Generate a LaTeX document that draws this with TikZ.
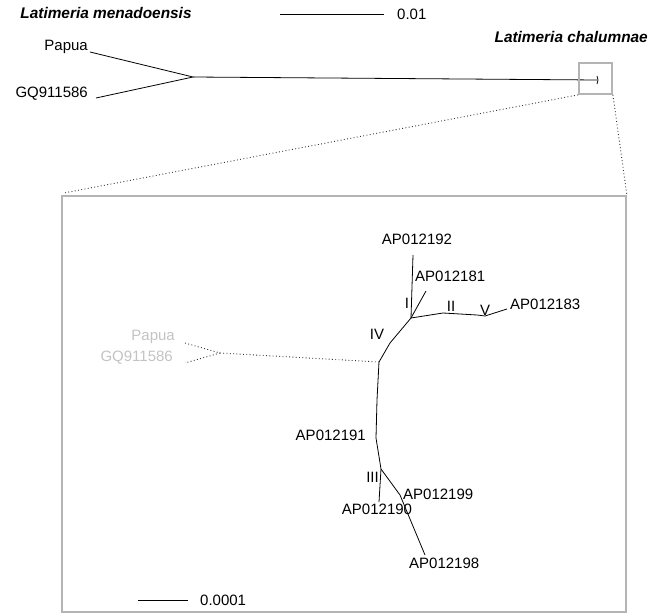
\documentclass[tikz,border=0pt]{standalone}
\usepackage{fontspec}
\setmainfont{Liberation Sans}
\usepackage{tikz}
\definecolor{boxgray}{RGB}{180,180,180}
\definecolor{leafgray}{RGB}{195,195,195}
\begin{document}
\begin{tikzpicture}[x=1pt,y=-1pt]
\tikzstyle{every node}+=[inner sep=0pt,font=\fontsize{15}{18}\selectfont]
\tikzstyle{species}=[font=\fontsize{15.4}{18}\selectfont\bfseries\itshape]
\tikzstyle{zoombox}=[draw=boxgray,line width=1.8pt,inner sep=0pt]
\tikzstyle{branch}=[black,line width=0.8pt]
\tikzstyle{guide}=[black!80,line width=0.9pt,dash pattern=on 0.9pt off 2.4pt]
\useasboundingbox (0,0) rectangle (653,615);
\draw (106,13) node [species] (menado) {Latimeria menadoensis};
\draw (648,37) node [species,anchor=east] (chalum) {Latimeria chalumnae};
\coordinate (bigleft) at (280,14);
\coordinate (bigright) at (384,14);
\draw [branch] (bigleft) -- (bigright);
\draw (397,14) node [anchor=west] (bigscale) {0.01};
\coordinate (root) at (193,77);
\coordinate (papuatip) at (90,52);
\coordinate (gqtip) at (96,98);
\coordinate (chaltip) at (597,80);
\draw (88,47) node [anchor=east] (papua) {Papua};
\draw (88,94) node [anchor=east] (gq) {GQ911586};
\draw [branch] (papuatip) -- (root) -- (gqtip);
\draw [branch] (root) -- (chaltip);
\draw [branch] (597,76) -- (598,80) -- (597,84);
\node [zoombox,minimum width=33pt,minimum height=31pt] (small) at (595.5,78.5) {};
\node [zoombox,minimum width=564pt,minimum height=416pt] (big) at (344,404) {};
\draw [guide] (small.south west) -- (64,193);
\draw [guide] (small.south east) -- (big.north east);
\coordinate (base) at (379,362);
\coordinate (kink) at (390,343);
\coordinate (hub) at (411,318);
\coordinate (tipA) at (413,255);
\coordinate (tipB) at (426,291);
\coordinate (bendA) at (443,313);
\coordinate (bendB) at (477,315);
\coordinate (vjoin) at (485,316);
\coordinate (tipC) at (507,309);
\coordinate (midD) at (377,400);
\coordinate (tipD) at (376,438);
\coordinate (nodeE) at (381,469);
\coordinate (tipE) at (379,502);
\coordinate (tipF) at (400,495);
\coordinate (tipG) at (425,555);
\coordinate (grayjoin) at (220,353);
\coordinate (graypapua) at (185,343);
\coordinate (graygq) at (185,363);
\draw [branch] (base) -- (kink) -- (hub) -- (tipA);
\draw [branch] (hub) -- (tipB);
\draw [branch] (hub) -- (bendA) -- (bendB) -- (vjoin) -- (tipC);
\draw [branch] (base) -- (midD) -- (tipD) -- (nodeE) -- (tipE);
\draw [branch] (nodeE) -- (tipF) -- (tipG);
\draw [guide] (base) -- (grayjoin) -- (graypapua);
\draw [guide] (grayjoin) -- (graygq);
\draw (417,239) node (lab192) {AP012192};
\draw (415,276) node [anchor=west] (lab181) {AP012181};
\draw (510,304) node [anchor=west] (lab183) {AP012183};
\draw (366,435) node [anchor=east] (lab191) {AP012191};
\draw (377,509) node (lab190) {AP012190};
\draw (403,494) node [anchor=west] (lab199) {AP012199};
\draw (409,563) node [anchor=west] (lab198) {AP012198};
\draw (407,303) node (cladeI) {I};
\draw (451,306) node (cladeII) {II};
\draw (485,310) node (cladeV) {V};
\draw (377,334) node (cladeIV) {IV};
\draw (379,477) node [anchor=east] (cladeIII) {III};
\draw (175,337) node [anchor=east,leafgray] (graypapualab) {Papua};
\draw (173,358) node [anchor=east,leafgray] (graygqlab) {GQ911586};
\coordinate (smallleft) at (138,600);
\coordinate (smallright) at (188,600);
\draw [branch] (smallleft) -- (smallright);
\draw (200,600) node [anchor=west] (smallscale) {0.0001};
\end{tikzpicture}
\end{document}
